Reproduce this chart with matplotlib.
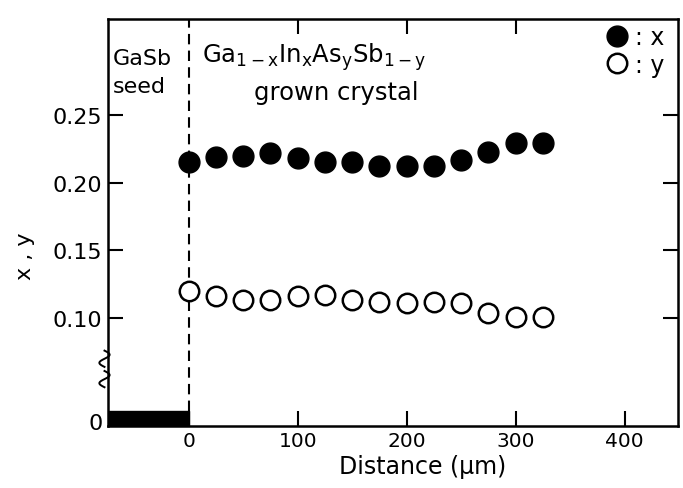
import matplotlib.pyplot as plt
import numpy as np

# distance from seed/crystal interface (um)
distance = [0, 25, 50, 75, 100, 125, 150, 175, 200, 225, 250, 275, 300, 325]
# In content x and As content y
x_val = [0.215, 0.219, 0.220, 0.222, 0.218, 0.215, 0.215, 0.212, 0.212, 0.212, 0.217, 0.223, 0.229, 0.229]
y_val = [0.120, 0.116, 0.113, 0.113, 0.116, 0.117, 0.113, 0.112, 0.111, 0.112, 0.111, 0.104, 0.101, 0.101]

xticks = [0, 100, 200, 300, 400]
yticks = [0.10, 0.15, 0.20, 0.25]
ytick_labels = ['0.10', '0.15', '0.20', '0.25']

# axis break: "0" sits just above the bottom of the broken y axis
xlim = (-74, 449)
ylim = (0.0202, 0.3209)
zero_pos = 0.0235
seed_top = 0.0313

fig = plt.figure(figsize=(6.83, 4.89), dpi=100)
ax = fig.add_axes([0.158, 0.127, 0.835, 0.832])

# GaSb seed block
ax.fill_between([xlim[0], 0], [ylim[0], ylim[0]], [seed_top, seed_top],
                facecolor='black', edgecolor='black', zorder=3)
ax.plot([0, 0], [seed_top, ylim[1]], color='black', linewidth=1.5,
        dashes=(5, 3), zorder=2)

ax.plot(distance, x_val, 'o', color='black', markersize=15, label=': x', zorder=4)
ax.plot(distance, y_val, 'o', markerfacecolor='white', markeredgecolor='black',
        markeredgewidth=1.8, markersize=14, label=': y', zorder=4)

ax.set_xlim(xlim)
ax.set_ylim(ylim)
ax.set_xticks(xticks)
ax.set_xticklabels([str(t) for t in xticks], fontsize=14.5)
ax.set_yticks([zero_pos] + yticks)
ax.set_yticklabels(['0'] + ytick_labels, fontsize=16)
ax.tick_params(direction='in', length=11, width=1.5, top=True, right=True, pad=4)
ax.yaxis.get_major_ticks()[0].tick1line.set_visible(False)
ax.yaxis.get_major_ticks()[0].tick2line.set_visible(False)
ax.xaxis.get_major_ticks()[0].tick2line.set_visible(False)
ax.xaxis.get_major_ticks()[-1].tick2line.set_visible(False)
for s in ax.spines.values():
    s.set_linewidth(1.8)

# break marks on the left spine (small S-shaped squiggles)
t = np.linspace(0, 1, 40)
for yb in [0.095, 0.145]:
    ax.plot(-0.006 - 0.009 * np.sin(2 * np.pi * t), yb + 0.04 * t,
            color='black', linewidth=1.4,
            transform=ax.transAxes, clip_on=False)

ax.text(0.009, 0.889, 'GaSb', transform=ax.transAxes, fontsize=16)
ax.text(0.009, 0.821, 'seed', transform=ax.transAxes, fontsize=16)
ax.text(0.165, 0.894, r'Ga$_{\rm 1-x}$In$_{\rm x}$As$_{\rm y}$Sb$_{\rm 1-y}$',
        transform=ax.transAxes, fontsize=17.5)
ax.text(0.400, 0.803, 'grown crystal', transform=ax.transAxes, fontsize=17.5,
        ha='center')

ax.set_xlabel('Distance (μm)', fontsize=17)
ax.xaxis.set_label_coords(0.551, -0.07)
ax.set_ylabel('x , y', fontsize=16)
ax.yaxis.set_label_coords(-0.128, 0.42)

ax.legend(loc='upper right', bbox_to_anchor=(1.0, 1.02), frameon=False,
          fontsize=17, handlelength=0.9, handletextpad=0.3, labelspacing=0.15,
          borderaxespad=0.2)

fig.savefig('out.png', dpi=100)
